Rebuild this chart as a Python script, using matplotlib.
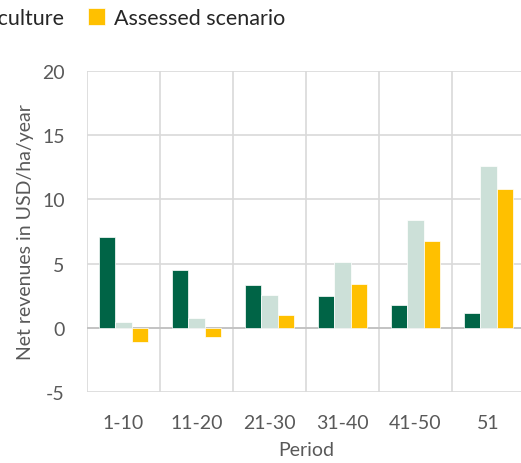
import matplotlib
matplotlib.use("Agg")
import matplotlib.pyplot as plt
import numpy as np

periods = ["1-10", "11-20", "21-30", "31-40", "41-50", "51"]
series_names = ["Conventional agriculture", "Conservation agriculture", "Assessed scenario"]
dark_vals = [7.1, 4.5, 3.37, 2.49, 1.77, 1.17]
light_vals = [0.44, 0.8, 2.57, 5.14, 8.43, 12.6]
yellow_vals = [-1.1, -0.73, 1.01, 3.42, 6.74, 10.79]
colors = ["#006446", "#CCE0D8", "#FFC000"]

plt.rcParams['font.family'] = ['Lato', 'DejaVu Sans']
plt.rcParams['axes.unicode_minus'] = False
txt = "#595959"
grid = "#D9D9D9"

fig = plt.figure(figsize=(5.21, 4.64), dpi=100)
W, H = 521, 464
ax = fig.add_axes([87 / W, (H - 393) / H, 438 / W, (393 - 72) / H])

x = np.arange(len(periods))
bw = 0.225
for i, (vals, c, name) in enumerate(zip([dark_vals, light_vals, yellow_vals], colors, series_names)):
    ax.bar(x + (i - 1) * bw, vals, width=bw, color=c, edgecolor="white", linewidth=0.5,
           label=name, zorder=3)

ax.set_xlim(-0.5, len(periods) - 0.5)
ax.set_ylim(-5, 20)
ax.set_yticks([-5, 0, 5, 10, 15, 20])
ax.set_xticks(x)
ax.set_xticklabels(periods)
ax.set_xticks(np.arange(-0.5, len(periods) + 0.5, 1), minor=True)
ax.grid(True, axis='y', which='major', color=grid, linewidth=1.2, zorder=0)
ax.grid(True, axis='x', which='minor', color=grid, linewidth=1.2, zorder=0)
ax.axhline(0, color="#BFBFBF", linewidth=1.2, zorder=2)
for s in ax.spines.values():
    s.set_visible(False)
ax.tick_params(axis='both', which='both', length=0, labelsize=14, labelcolor=txt)
ax.tick_params(axis='y', pad=16)
ax.tick_params(axis='x', pad=16)
ax.set_xlabel("Period", fontsize=14, color=txt, labelpad=7)
ax.set_ylabel("Net revenues in USD/ha/year", fontsize=14, color=txt, labelpad=6)

leg = fig.legend(loc='center right', bbox_to_anchor=(285 / W, 1 - 19 / H), ncol=3, frameon=False,
                 fontsize=15.5, handlelength=0.8, handleheight=0.8, handletextpad=0.4,
                 columnspacing=1.1, borderpad=0, borderaxespad=0)
for t in leg.get_texts():
    t.set_color("#262626")

fig.savefig("out.png", dpi=100)
